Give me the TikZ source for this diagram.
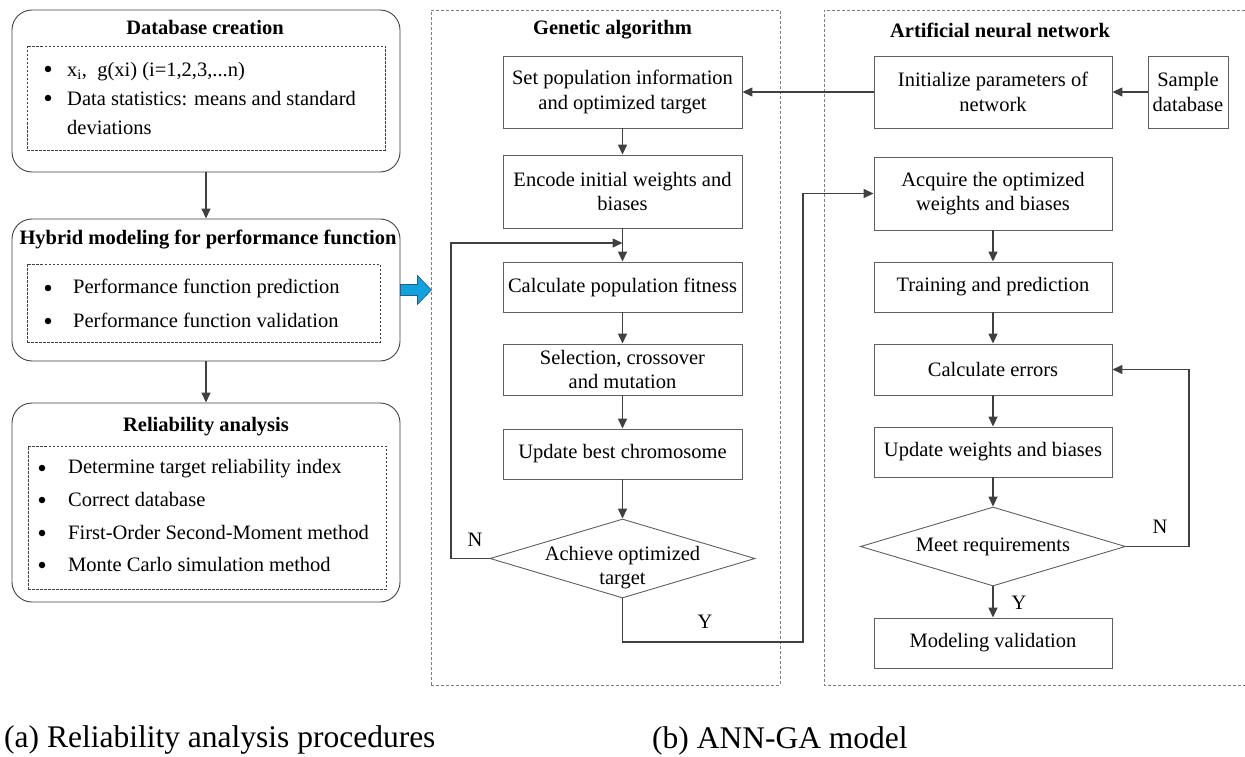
\documentclass[tikz,border=0pt]{standalone}
\usepackage{fontspec}
\setmainfont{Liberation Serif}
\usetikzlibrary{arrows.meta,shapes.geometric,calc}

\definecolor{linegray}{RGB}{64,64,64}
\definecolor{boxgray}{RGB}{95,95,95}
\definecolor{framegray}{RGB}{125,125,125}
\definecolor{arrowblue}{RGB}{18,160,222}
\definecolor{arrowedge}{RGB}{30,95,140}

\begin{document}
\begin{tikzpicture}[x=1pt,y=-1pt,
  every node/.style={font=\fontsize{20.5}{24.6}\selectfont, inner sep=0pt},
  stagebox/.style={draw=linegray, line width=0.9pt, rounded corners=20pt},
  listbox/.style={draw=linegray, line width=0.7pt, dash pattern=on 2.5pt off 1.5pt},
  procbox/.style={draw=boxgray, line width=0.9pt, align=center},
  decision/.style={draw=boxgray, line width=0.9pt, diamond, minimum width=265pt, minimum height=79pt},
  frame/.style={draw=framegray, line width=0.8pt, dash pattern=on 3pt off 2pt},
  conn/.style={draw=linegray, line width=1.4pt, -{Triangle[length=10pt,width=9pt]}},
  title/.style={font=\fontsize{20.5}{24.6}\selectfont\bfseries},
  itemtext/.style={anchor=west, text height=15pt, text depth=4pt},
  bul/.style={circle, fill=black, minimum size=6.5pt},
  lbl/.style={},
  caption/.style={font=\fontsize{31.5}{36}\selectfont, anchor=base west}
]
\useasboundingbox (0,0) rectangle (1245,757);

% ---------------- (a) reliability analysis procedure ----------------
\node[stagebox, minimum width=388pt, minimum height=162pt] (db) at (206,91) {};
\node[title] (dbt) at (205,27) {Database creation};
\node[listbox, minimum width=358pt, minimum height=104pt] (dbl) at (206,98) {};
\node[bul] (dbb1) at (48,69) {};
\node[itemtext] (dbi1) at (67,71) {x\textsubscript{i},\ \ g(xi) (i=1,2,3,...n)};
\node[bul] (dbb2) at (48,98) {};
\node[itemtext] (dbi2) at (67,100) {Data statistics: means and standard};
\node[itemtext] (dbi3) at (67,129) {deviations};

\node[stagebox, minimum width=388pt, minimum height=142pt] (hyb) at (206,290) {};
\node[title] (hybt) at (208,240) {Hybrid modeling for performance function};
\node[listbox, minimum width=353pt, minimum height=78pt] (hybl) at (203.5,303) {};
\node[bul] (hbb1) at (48,288) {};
\node[itemtext] (hbi1) at (73,288) {Performance function prediction};
\node[bul] (hbb2) at (48,321) {};
\node[itemtext] (hbi2) at (73,322) {Performance function validation};

\node[stagebox, minimum width=388pt, minimum height=199pt] (rel) at (206,502.5) {};
\node[title] (relt) at (206,427) {Reliability analysis};
\node[listbox, minimum width=358pt, minimum height=143pt] (rell) at (207,517.5) {};
\node[bul] (rbb1) at (42,468) {};
\node[itemtext] (rbi1) at (68,468) {Determine target reliability index};
\node[bul] (rbb2) at (42,500) {};
\node[itemtext] (rbi2) at (68,501) {Correct database};
\node[bul] (rbb3) at (42,533) {};
\node[itemtext] (rbi3) at (68,534) {First-Order Second-Moment method};
\node[bul] (rbb4) at (42,565) {};
\node[itemtext] (rbi4) at (68,566) {Monte Carlo simulation method};

\draw[conn] (db.south) -- (hyb.north);
\draw[conn] (hyb.south) -- (rel.north);

% block arrow leading to the model
\filldraw[fill=arrowblue, draw=arrowedge, line width=0.6pt]
  ($(hyb.east)+(0,-5.5)$) -- ++(17,0) -- ++(0,-9) -- ($(hyb.east)+(31,0)$)
  -- ($(hyb.east)+(17,14.5)$) -- ++(0,-9) -- ($(hyb.east)+(0,5.5)$) -- cycle;

% ---------------- (b) genetic algorithm ----------------
\node[frame, minimum width=349pt, minimum height=675pt] (gaf) at (605.5,347.5) {};
\node[title] (gat) at (612.5,30) {Genetic algorithm};

\node[procbox, minimum width=239pt, minimum height=72pt] (setpop) at (622.5,92)
  {Set population information\\and optimized target};
\node[procbox, minimum width=239pt, minimum height=73pt] (encode) at (622.5,191.5)
  {Encode initial weights and\\biases};
\node[procbox, minimum width=239pt, minimum height=50pt] (fit) at (622.5,287)
  {Calculate population fitness};
\node[procbox, minimum width=239pt, minimum height=51pt] (sel) at (622.5,369.5)
  {Selection, crossover\\and mutation};
\node[procbox, minimum width=239pt, minimum height=50pt] (best) at (622.5,454)
  {Update best chromosome};
\node[decision] (ach) at (622.5,558.5) {};
\node[align=center] (acht) at (622.5,567.5) {Achieve optimized\\target};

\draw[conn] (setpop.south) -- (encode.north);
\draw[conn] (encode.south) -- (fit.north);
\draw[conn] (fit.south) -- (sel.north);
\draw[conn] (sel.south) -- (best.north);
\draw[conn] (best.south) -- (ach.north);

\coordinate (gaN) at (451,243);
\coordinate (gaJ) at (622.5,243);
\draw[conn] (ach.west) -| (gaN) -- (gaJ);
\node[lbl] (gaNl) at (475,540) {N};

\coordinate (gaY) at (803,642);

% ---------------- (b) artificial neural network ----------------
\draw[frame] (1250,10) -- (824,10) -- (824,685) -- (1250,685);
\node[title] (annt) at (1000,30) {Artificial neural network};

\node[procbox, minimum width=238pt, minimum height=72pt] (init) at (993,92)
  {Initialize parameters of\\network};
\node[procbox, minimum width=80pt, minimum height=72pt] (sample) at (1188,92)
  {Sample\\database};
\node[procbox, minimum width=238pt, minimum height=73pt] (acq) at (993,193.5)
  {Acquire the optimized\\weights and biases};
\node[procbox, minimum width=238pt, minimum height=50pt] (train) at (993,287)
  {Training and prediction};
\node[procbox, minimum width=238pt, minimum height=51pt] (err) at (993,369.5)
  {Calculate errors};
\node[procbox, minimum width=238pt, minimum height=50pt] (upd) at (993,452)
  {Update weights and biases};
\node[decision] (meet) at (993,546.5) {};
\node (meett) at (993,547) {Meet requirements};
\node[procbox, minimum width=238pt, minimum height=50pt] (model) at (993,643)
  {Modeling validation};

\draw[conn] (sample.west) -- (init.east);
\draw[conn] (init.west) -- (setpop.east);
\draw[conn] (ach.south) |- (gaY) |- (acq.west);
\node[lbl] (gaYl) at (705,622) {Y};

\draw[conn] (acq.south) -- (train.north);
\draw[conn] (train.south) -- (err.north);
\draw[conn] (err.south) -- (upd.north);
\draw[conn] (upd.south) -- (meet.north);
\draw[conn] (meet.south) -- (model.north);
\node[lbl] (annYl) at (1019,603) {Y};

\coordinate (annN) at (1189,546.5);
\draw[conn] (meet.east) -- (annN) |- (err.east);
\node[lbl] (annNl) at (1160,527) {N};

% ---------------- captions ----------------
\node[caption] (capa) at (4,747) {(a) Reliability analysis procedures};
\node[caption] (capb) at (652,748) {(b) ANN-GA model};
\end{tikzpicture}
\end{document}
